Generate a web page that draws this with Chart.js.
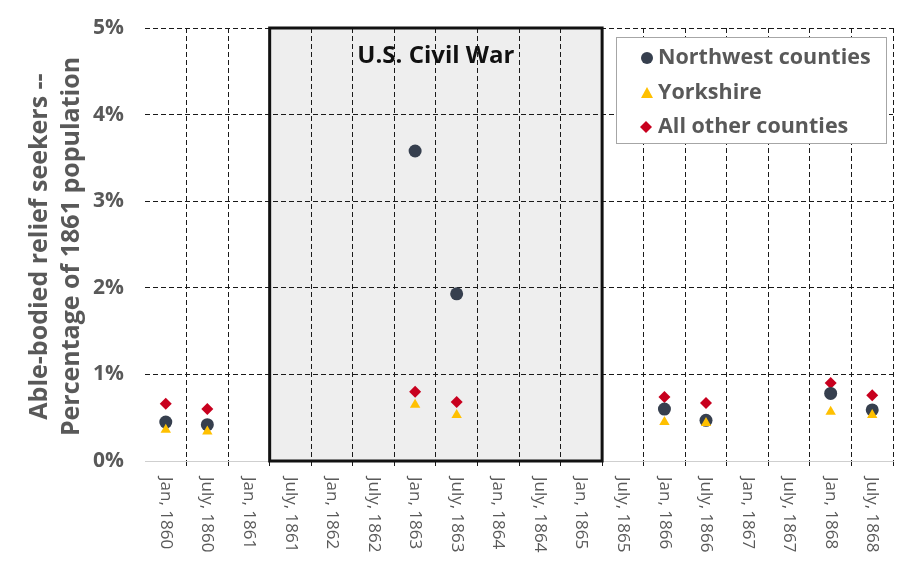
<!DOCTYPE html>
<html>
<head>
<meta charset="utf-8">
<script src="https://cdn.jsdelivr.net/npm/chart.js@4/dist/chart.umd.min.js"></script>
<style>
  html, body { margin: 0; padding: 0; background: #ffffff; }
  #wrap { width: 900px; height: 581px; position: relative; }
</style>
</head>
<body>
<div id="wrap"><canvas id="c" width="900" height="581"></canvas></div>
<script>
const categories = ['Jan, 1860','July, 1860','Jan, 1861','July, 1861','Jan, 1862','July, 1862','Jan, 1863','July, 1863','Jan, 1864','July, 1864','Jan, 1865','July, 1865','Jan, 1866','July, 1866','Jan, 1867','July, 1867','Jan, 1868','July, 1868'];
const northwest = [0.45, 0.42, null, null, null, null, 3.58, 1.93, null, null, null, null, 0.60, 0.47, null, null, 0.78, 0.59];
const yorkshire = [0.36, 0.34, null, null, null, null, 0.65, 0.53, null, null, null, null, 0.45, 0.44, null, null, 0.57, 0.53];
const others    = [0.66, 0.60, null, null, null, null, 0.80, 0.68, null, null, null, null, 0.74, 0.67, null, null, 0.90, 0.76];
const seriesNames = ['Northwest counties', 'Yorkshire', 'All other counties'];
const yTicks = [0, 1, 2, 3, 4, 5];
// U.S. Civil War: April 1861 to April 1865, in half-year steps from Jan 1860
const warPeriod = [2.5, 10.5];
const warLabel = 'U.S. Civil War';
const yTitle = ['Able-bodied relief seekers --', 'Percentage of 1861 population'];

const C_NW = '#363f4e', C_YK = '#ffc000', C_OT = '#c8001e';
const GRID = '#1a1a1a', TXT = '#595959';
const FONT = '"Open Sans", Lato, sans-serif';

function posOnCat(scale, v) {
  const i = Math.floor(v), f = v - i;
  const a = scale.getPixelForValue(i), b = scale.getPixelForValue(i + 1);
  return a + (b - a) * f;
}

const warPlugin = {
  id: 'war',
  beforeDraw(chart) {
    const { ctx, chartArea: ca, scales: { x } } = chart;
    const x0 = posOnCat(x, warPeriod[0]), x1 = posOnCat(x, warPeriod[1]);
    ctx.save();
    ctx.fillStyle = '#eeeeee';
    ctx.fillRect(x0, ca.top, x1 - x0, ca.bottom - ca.top);
    ctx.restore();
  },
  beforeDatasetsDraw(chart) {
    const { ctx, chartArea: ca, scales: { x } } = chart;
    const x0 = posOnCat(x, warPeriod[0]), x1 = posOnCat(x, warPeriod[1]);
    ctx.save();
    ctx.strokeStyle = '#111111';
    ctx.lineWidth = 3;
    ctx.strokeRect(x0, ca.top, x1 - x0, ca.bottom - ca.top);
    ctx.fillStyle = '#111111';
    ctx.font = 'bold 24px ' + FONT;
    ctx.textAlign = 'center';
    ctx.textBaseline = 'middle';
    ctx.fillText(warLabel, (x0 + x1) / 2, ca.top + 28);
    ctx.restore();
  },
  afterDraw(chart) {
    const { ctx, chartArea: ca, scales: { x } } = chart;
    ctx.save();
    // x tick labels, rotated clockwise
    ctx.fillStyle = TXT;
    ctx.font = '17px ' + FONT;
    ctx.textAlign = 'left';
    ctx.textBaseline = 'middle';
    categories.forEach((lab, i) => {
      const px = x.getPixelForValue(i);
      ctx.save();
      ctx.translate(px, ca.bottom + 16);
      ctx.rotate(Math.PI / 2);
      ctx.fillText(lab, 0, 0);
      ctx.restore();
    });
    // y title
    ctx.font = 'bold 25px ' + FONT;
    ctx.textAlign = 'center';
    ctx.textBaseline = 'middle';
    const cy = (ca.top + ca.bottom) / 2 + 2;
    [40, 72].forEach((cx, k) => {
      ctx.save();
      ctx.translate(cx, cy);
      ctx.rotate(-Math.PI / 2);
      ctx.fillText(yTitle[k], 0, 0);
      ctx.restore();
    });
    // legend
    const lx = 616, ly = 37, lw = 270, lh = 106;
    ctx.fillStyle = '#ffffff';
    ctx.fillRect(lx, ly, lw, lh);
    ctx.strokeStyle = '#a6a6a6';
    ctx.lineWidth = 1;
    ctx.strokeRect(lx + 0.5, ly + 0.5, lw, lh);
    const rows = [58, 93, 127];
    const ds = chart.data.datasets;
    [0, 1, 2].forEach((k, r) => {
      const d = ds.find(dd => dd.label === seriesNames[k]);
      const y = rows[r];
      ctx.fillStyle = d.backgroundColor;
      ctx.beginPath();
      if (d.pointStyle === 'circle') {
        ctx.arc(647, y, 6, 0, Math.PI * 2);
      } else if (d.pointStyle === 'triangle') {
        ctx.moveTo(647, y - 6); ctx.lineTo(653, y + 5); ctx.lineTo(641, y + 5); ctx.closePath();
      } else {
        ctx.moveTo(646, y - 6); ctx.lineTo(652, y); ctx.lineTo(646, y + 6); ctx.lineTo(640, y); ctx.closePath();
      }
      ctx.fill();
      ctx.fillStyle = TXT;
      ctx.font = 'bold 21.5px ' + FONT;
      ctx.textAlign = 'left';
      ctx.textBaseline = 'middle';
      ctx.fillText(seriesNames[k], 658, y);
    });
    ctx.restore();
  }
};

new Chart(document.getElementById('c'), {
  type: 'line',
  data: {
    labels: categories,
    datasets: [
      { label: seriesNames[0], data: northwest, showLine: false, pointStyle: 'circle', pointRadius: 6.5, pointHoverRadius: 6.5,
        backgroundColor: C_NW, borderColor: C_NW, borderWidth: 0, order: 1 },
      { label: seriesNames[1], data: yorkshire, showLine: false, pointStyle: 'triangle', pointRadius: 6, pointHoverRadius: 6,
        backgroundColor: C_YK, borderColor: C_YK, borderWidth: 0, order: 0 },
      { label: seriesNames[2], data: others, showLine: false, pointStyle: 'rectRot', pointRadius: 6, pointHoverRadius: 6,
        backgroundColor: C_OT, borderColor: C_OT, borderWidth: 0, order: 2 }
    ]
  },
  options: {
    responsive: false,
    animation: false,
    events: [],
    layout: { padding: { left: 0, right: 7, top: 28, bottom: 0 } },
    plugins: { legend: { display: false }, tooltip: { enabled: false } },
    scales: {
      x: {
        offset: true,
        grid: {
          offset: true,
          color: c => (c.index === 0 ? 'rgba(0,0,0,0)' : GRID),
          lineWidth: 1,
          drawTicks: true,
          tickLength: 5
        },
        border: { display: true, color: '#cfcfcf', width: 1, dash: [5, 3] },
        ticks: { display: false },
        afterFit: s => { s.height = 120; s.paddingLeft = 0; s.paddingRight = 0; }
      },
      y: {
        min: 0, max: 5,
        afterBuildTicks: s => { s.ticks = yTicks.map(v => ({ value: v })); },
        grid: {
          color: c => (c.index === 0 ? 'rgba(0,0,0,0)' : GRID),
          lineWidth: 1,
          drawTicks: false
        },
        border: { display: false, dash: [5, 3] },
        ticks: {
          padding: 21,
          color: TXT,
          font: { family: FONT, size: 21, weight: 'bold' },
          callback: v => v + '%'
        },
        afterFit: s => { s.width = 145; s.paddingTop = 0; s.paddingBottom = 0; }
      }
    }
  },
  plugins: [warPlugin]
});
</script>
</body>
</html>
